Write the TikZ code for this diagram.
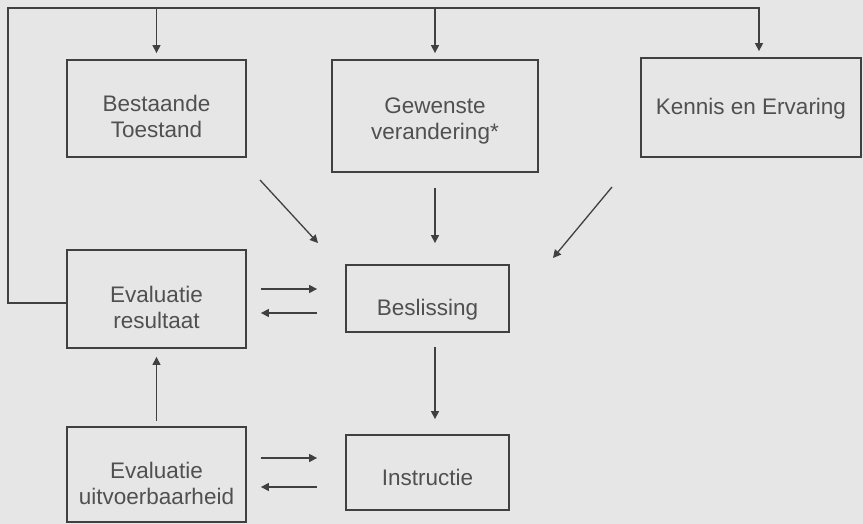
\documentclass[tikz,border=0pt]{standalone}
\usepackage{fontspec}
\setmainfont{Liberation Sans}
\usetikzlibrary{arrows.meta}
\definecolor{papier}{HTML}{E6E6E6}
\definecolor{lijn}{HTML}{404040}
\definecolor{tekst}{HTML}{505050}

\begin{document}
\begin{tikzpicture}[x=1pt,y=-1pt,
  blok/.style={draw=lijn,line width=1.8pt,inner sep=0pt},
  tekstje/.style={text=tekst,align=center,inner sep=0pt,font=\fontsize{22.5}{26}\selectfont},
  pijl/.style={draw=lijn,line width=1.3pt,-{Triangle[length=8pt,width=8pt]}},
  terug/.style={draw=lijn,line width=1.3pt,{Triangle[length=8pt,width=8pt]}-}]
\fill[papier] (0,0) rectangle (863,524);
\useasboundingbox (0,0) rectangle (863,524);

% blokken
\node[blok,minimum width=179pt,minimum height=97pt] (bt) at (156.5,108.5) {};
\node[blok,minimum width=206pt,minimum height=112pt] (gv) at (435,116) {};
\node[blok,minimum width=220pt,minimum height=99pt] (ke) at (751,107.5) {};
\node[blok,minimum width=163pt,minimum height=67pt] (bes) at (427.5,298.5) {};
\node[blok,minimum width=179pt,minimum height=98pt] (er) at (156.5,299) {};
\node[blok,minimum width=163pt,minimum height=75pt] (ins) at (427.5,472.5) {};
\node[blok,minimum width=179pt,minimum height=95pt] (eu) at (156.5,474.5) {};

\node[tekstje] at ([yshift=-8.4pt]bt.center) {Bestaande\\Toestand};
\node[tekstje] at ([yshift=-4.8pt]gv.center) {Gewenste\\verandering*};
\node[tekstje] at ([yshift=-1pt]ke.center) {Kennis en Ervaring};
\node[tekstje] at ([yshift=-10.8pt]bes.center) {Beslissing};
\node[tekstje] at ([yshift=-8.9pt]er.center) {Evaluatie\\resultaat};
\node[tekstje] at ([yshift=-8.9pt]eu.center) {Evaluatie\\uitvoerbaarheid};
\node[tekstje] at ([yshift=-5.4pt]ins.center) {Instructie};

% terugkoppeling bovenlangs
\coordinate (hoek) at (8,8);
\draw[pijl,shorten >=6pt] ([yshift=-4pt]er.west) -| (hoek) -| ([xshift=8pt]ke.north);
\draw[pijl,shorten >=6pt] (bt.north |- hoek) -- (bt.north);
\draw[pijl,shorten >=6pt] (gv.north |- hoek) -- (gv.north);

% naar de beslissing
\coordinate (b1) at (260,180);
\coordinate (b2) at (318,243);
\coordinate (k1) at (612,187);
\coordinate (k2) at (553,258);
\draw[pijl] (b1) -- (b2);
\draw[pijl] (k1) -- (k2);
\draw[pijl,shorten <=15pt,shorten >=21pt] (gv.south) -- (gv.south |- bes.north);
\draw[pijl,shorten <=14pt,shorten >=15pt] (gv.south |- bes.south) -- (gv.south |- ins.north);

% heen en terug
\draw[pijl,shorten <=14pt,shorten >=28pt] ([yshift=10pt]er.east) -- ([yshift=10pt]er.east -| bes.west);
\draw[terug,shorten <=14pt,shorten >=28pt] ([yshift=-14pt]er.east) -- ([yshift=-14pt]er.east -| bes.west);
\draw[pijl,shorten <=14pt,shorten >=28pt] ([yshift=16.5pt]eu.east) -- ([yshift=16.5pt]eu.east -| ins.west);
\draw[terug,shorten <=14pt,shorten >=28pt] ([yshift=-12.5pt]eu.east) -- ([yshift=-12.5pt]eu.east -| ins.west);
\draw[pijl,shorten <=5pt,shorten >=8pt] (eu.north) -- (eu.north |- er.south);
\end{tikzpicture}
\end{document}
